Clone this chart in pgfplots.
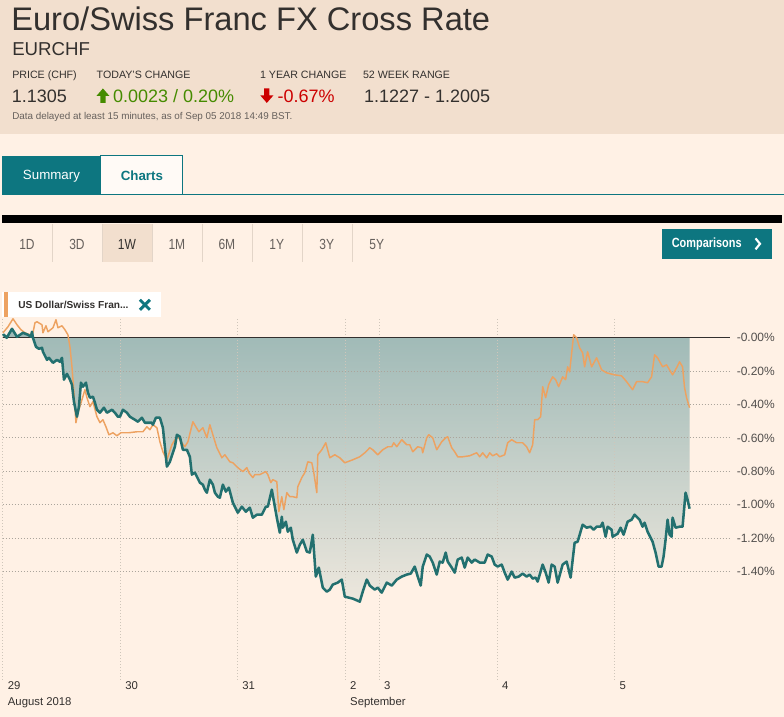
\documentclass[border=0pt]{standalone}
\usepackage{pgfplots}
\pgfplotsset{compat=1.18}
\usepackage{pgfplotstable}
\usepackage{fontspec}
\setmainfont{Liberation Sans}
\newfontfamily\narrowfont[FakeStretch=0.82]{Liberation Sans}

\definecolor{ftpink}{HTML}{FFF1E5}
\definecolor{fthead}{HTML}{F2DFCE}
\definecolor{fttext}{HTML}{33302E}
\definecolor{ftgray}{HTML}{66605C}
\definecolor{ftteal}{HTML}{0D7680}
\definecolor{lineteal}{HTML}{23706F}
\definecolor{lineorange}{HTML}{EDA261}
\definecolor{ftgreen}{HTML}{458B00}
\definecolor{ftred}{HTML}{CC0000}
\definecolor{gridh}{HTML}{ABA59C}
\definecolor{gridv}{HTML}{CFC6BA}
\definecolor{sepc}{HTML}{E3D5C8}
\definecolor{shadetop}{RGB}{158,185,182}
\definecolor{shadebot}{RGB}{237,231,221}
\pagecolor{ftpink}

% EUR/CHF, % change over the week (x = horizontal position)
\pgfplotstableread{
x y
3 0.012
4 0.018
6.7 0
12 0.054
17 0.006
23 0.030
28 0.018
31 0.006
32 0.036
33 0
36 -0.054
39 -0.066
42 -0.060
43 -0.084
47 -0.132
49 -0.120
53 -0.150
57 -0.132
60 -0.144
62 -0.120
64 -0.251
67 -0.216
70 -0.251
72 -0.281
74 -0.383
77 -0.473
79 -0.413
81 -0.269
83 -0.293
86 -0.269
88 -0.329
90 -0.359
93 -0.353
95 -0.389
97 -0.431
100 -0.449
104 -0.419
107 -0.449
112 -0.431
115 -0.449
118 -0.473
120 -0.473
123 -0.431
127 -0.449
130 -0.473
135 -0.491
138 -0.503
142 -0.479
145 -0.509
152 -0.509
153 -0.521
156 -0.479
160 -0.479
163 -0.539
167 -0.772
170 -0.743
175 -0.653
177 -0.581
180 -0.593
183 -0.671
187 -0.671
190 -0.713
192 -0.820
195 -0.808
200 -0.868
203 -0.880
205 -0.910
207 -0.928
210 -0.850
213 -0.880
215 -0.928
218 -0.952
220 -0.958
223 -0.880
226 -0.922
229 -0.898
233 -0.988
238 -1.048
242 -1.012
246 -1.042
250 -1.018
253 -1.078
257 -1.060
262 -1.060
266 -1.012
268 -1.012
272 -0.910
275 -1.012
277 -1.078
280 -1.168
282 -1.072
283 -1.138
286 -1.102
288 -1.162
291 -1.138
293 -1.210
297 -1.287
300 -1.240
303 -1.210
307 -1.281
310 -1.287
313 -1.180
316 -1.431
319 -1.377
323 -1.497
327 -1.521
330 -1.509
333 -1.479
338 -1.467
342 -1.449
345 -1.551
353 -1.563
360 -1.581
363 -1.521
367 -1.449
370 -1.485
375 -1.509
378 -1.497
382 -1.527
387 -1.467
392 -1.485
397 -1.449
402 -1.431
407 -1.419
411 -1.413
415 -1.371
418 -1.431
421 -1.485
423 -1.371
427 -1.299
430 -1.311
433 -1.347
437 -1.419
440 -1.341
443 -1.347
446 -1.287
448 -1.341
452 -1.377
455 -1.407
458 -1.329
462 -1.317
465 -1.377
468 -1.317
472 -1.347
475 -1.329
480 -1.347
485 -1.347
488 -1.299
492 -1.311
495 -1.359
498 -1.371
502 -1.359
505 -1.407
508 -1.449
512 -1.401
515 -1.437
519 -1.431
523 -1.413
527 -1.431
530 -1.419
533 -1.443
536 -1.437
538 -1.461
543 -1.359
546 -1.407
549 -1.467
552 -1.359
555 -1.371
558 -1.467
563 -1.359
567 -1.341
571 -1.437
575 -1.228
578 -1.222
583 -1.120
587 -1.138
591 -1.132
594 -1.150
597 -1.132
601 -1.132
603 -1.108
606 -1.192
608 -1.132
612 -1.150
613 -1.192
618 -1.174
621 -1.138
624 -1.180
628 -1.102
632 -1.090
635 -1.060
637 -1.072
640 -1.090
643 -1.132
645 -1.108
648 -1.162
653 -1.222
656 -1.287
659 -1.371
662 -1.371
664 -1.311
666 -1.210
668 -1.090
670 -1.180
672 -1.192
673 -1.078
676 -1.138
680 -1.132
683 -1.132
686 -0.928
688 -0.970
690 -1.024
}\eurchf

% USD/CHF comparison, % change
\pgfplotstableread{
x y
3 0.030
8 0.066
13 0.114
17 0.078
21 0.048
25 0.030
30 0.018
33 0.030
35 0.090
37 0.096
42 0.078
43 0.030
46 0.072
48 0.036
53 0.060
56 0.108
58 0.060
62 0.072
65 0.048
68 0.018
70 -0.054
72 -0.174
74 -0.329
76 -0.509
78 -0.449
82 -0.371
85 -0.311
87 -0.359
90 -0.413
93 -0.383
97 -0.473
100 -0.509
103 -0.491
106 -0.533
109 -0.581
113 -0.569
117 -0.587
121 -0.569
125 -0.569
129 -0.569
137 -0.563
143 -0.563
147 -0.533
150 -0.551
153 -0.521
157 -0.539
160 -0.623
163 -0.683
167 -0.731
172 -0.641
175 -0.611
178 -0.593
182 -0.629
185 -0.653
188 -0.623
193 -0.503
196 -0.533
199 -0.563
203 -0.539
207 -0.599
210 -0.521
213 -0.581
217 -0.659
222 -0.719
225 -0.701
230 -0.743
233 -0.749
238 -0.778
243 -0.802
247 -0.778
249 -0.808
253 -0.838
255 -0.820
260 -0.820
266 -0.802
268 -0.820
271 -0.868
273 -0.850
277 -0.862
279 -1.042
282 -0.952
284 -1.030
287 -0.928
290 -0.952
293 -0.952
297 -0.958
298 -0.892
302 -0.838
305 -0.808
308 -0.743
312 -0.749
314 -0.808
317 -0.928
318 -0.701
322 -0.671
326 -0.629
330 -0.719
335 -0.701
340 -0.719
345 -0.749
353 -0.731
360 -0.713
365 -0.689
370 -0.659
373 -0.671
378 -0.701
383 -0.671
388 -0.653
392 -0.653
394 -0.629
397 -0.653
402 -0.611
407 -0.641
410 -0.641
413 -0.683
418 -0.653
422 -0.659
423 -0.689
427 -0.599
429 -0.581
433 -0.599
437 -0.671
442 -0.623
446 -0.599
448 -0.593
452 -0.659
455 -0.683
458 -0.713
463 -0.713
470 -0.707
477 -0.689
480 -0.713
483 -0.689
487 -0.719
490 -0.689
493 -0.707
497 -0.695
500 -0.713
505 -0.701
508 -0.629
512 -0.611
517 -0.629
523 -0.629
527 -0.653
530 -0.689
533 -0.641
535 -0.491
538 -0.491
541 -0.473
543 -0.293
546 -0.359
549 -0.281
553 -0.234
556 -0.251
559 -0.293
563 -0.234
566 -0.251
568 -0.174
570 -0.204
574 0.018
577 0
580 -0.060
583 -0.090
585 -0.174
588 -0.084
592 -0.174
597 -0.120
602 -0.192
607 -0.210
615 -0.222
622 -0.228
627 -0.263
633 -0.311
637 -0.263
643 -0.263
648 -0.269
652 -0.234
655 -0.102
658 -0.120
663 -0.174
667 -0.162
670 -0.192
673 -0.222
677 -0.180
680 -0.144
683 -0.174
685 -0.299
687 -0.359
690 -0.419
}\usdchf

\begin{document}
\begin{tikzpicture}
\begin{scope}[x=0.75pt,y=-0.75pt]
% page extent (background comes from \pagecolor)
\path (0,0) rectangle (784,717);
% header
\fill[fthead] (0,0) rectangle (784,134);
\node[anchor=base west, inner sep=0pt, text=fttext, font=\fontsize{24.5}{28}\selectfont] at (11,30.5) {Euro/Swiss Franc FX Cross Rate};
\node[anchor=base west, inner sep=0pt, text=fttext, font=\fontsize{14}{16}\selectfont] at (12,56) {EURCHF};
\begin{scope}[every node/.style={anchor=base west, inner sep=0pt, text=fttext, font=\fontsize{8}{10}\selectfont}]
\node at (12,79) {PRICE (CHF)};
\node at (96.5,79) {TODAY'S CHANGE};
\node at (260,79) {1 YEAR CHANGE};
\node at (363,79) {52 WEEK RANGE};
\end{scope}
\begin{scope}[every node/.style={anchor=base west, inner sep=0pt, font=\fontsize{13.5}{16}\selectfont}]
\node[text=fttext] at (11.5,103) {1.1305};
\node[text=ftgreen] at (113,103) {0.0023 / 0.20\%};
\node[text=ftred] at (277.5,103) {-0.67\%};
\node[text=fttext] at (364,103) {1.1227 - 1.2005};
\end{scope}
\fill[ftgreen] (103,88.5) -- (109.5,96) -- (105.6,96) -- (105.6,103) -- (100.4,103) -- (100.4,96) -- (96.5,96) -- cycle;
\fill[ftred] (267,103) -- (273.5,95.5) -- (269.6,95.5) -- (269.6,88.5) -- (264.4,88.5) -- (264.4,95.5) -- (260.5,95.5) -- cycle;
\node[anchor=base west, inner sep=0pt, text=ftgray, font=\fontsize{7.4}{9}\selectfont] at (12,119.5) {Data delayed at least 15 minutes, as of Sep 05 2018 14:49 BST.};

% tabs
\fill[ftteal] (2,156) rectangle (101,195);
\node[text=white, font=\fontsize{10}{12}\selectfont] at (51.5,176) {Summary};
\filldraw[fill=ftpink!35!white, draw=ftteal, line width=0.75pt] (101,156) rectangle (183,195);
\node[text=ftteal, font=\bfseries\fontsize{10}{12}\selectfont] at (142,176) {Charts};
\draw[ftteal, line width=0.75pt] (183,195) -- (784,195);

% black rule
\fill[black] (2,215.5) rectangle (782,223.5);

% range buttons
\fill[fthead] (102.5,224) rectangle (152.5,262);
\foreach \sx in {52.5,102.5,152.5,202.5,252.5,302.5,352.5} {
  \draw[sepc, line width=0.75pt] (\sx,224) -- (\sx,262);
}
\begin{scope}[every node/.style={text=ftgray, font=\narrowfont\fontsize{11}{13}\selectfont}]
\node at (27,245) {1D};
\node at (77,245) {3D};
\node[text=fttext] at (127,245) {1W};
\node at (177,245) {1M};
\node at (227,245) {6M};
\node at (277,245) {1Y};
\node at (327,245) {3Y};
\node at (377,245) {5Y};
\end{scope}
\fill[ftteal] (662,229) rectangle (772,259);
\node[anchor=west, inner sep=0pt, text=white, font=\narrowfont\bfseries\fontsize{10}{12}\selectfont] at (672,244) {Comparisons};
\draw[white, line width=1.6pt] (756,238.5) -- (760.5,244) -- (756,249.5);

% comparison chip
\fill[white] (2,292) rectangle (161,317);
\fill[lineorange] (4.5,292) rectangle (8.5,317);
\node[anchor=west, inner sep=0pt, text=fttext, font=\bfseries\fontsize{7.6}{9}\selectfont] at (18,305) {US Dollar/Swiss Fran...};
\draw[ftteal, line width=2.2pt] (140,300) -- (150,310) (140,310) -- (150,300);
\end{scope}

% chart
\begin{axis}[
  at={(2.25pt,-510pt)}, anchor=south west,
  scale only axis, width=545.25pt, height=271.5pt,
  xmin=3, xmax=730, ymin=-2.048, ymax=0.1198,
  set layers,
  axis line style={draw=none},
  major tick length=0pt,
  xtick={3,120.5,237.5,345.5,379.5,497.5,615},
  xticklabels={{29\\August 2018},30,31,{2\\September},3,4,5},
  xticklabel style={anchor=north west, align=left, inner sep=0pt, xshift=3.5pt, yshift=-1.5pt,
    font=\fontsize{8.5}{12}\selectfont, text=fttext},
  ytick={0,-0.2,-0.4,-0.6,-0.8,-1.0,-1.2,-1.4},
  yticklabels={-0.00\%,-0.20\%,-0.40\%,-0.60\%,-0.80\%,-1.00\%,-1.20\%,-1.40\%},
  yticklabel pos=right,
  yticklabel style={anchor=west, inner sep=0pt, xshift=5.25pt, font=\fontsize{9}{11}\selectfont, text=fttext!85!white},
  xmajorgrids, ymajorgrids,
  x grid style={gridv, line width=0.75pt, dash pattern=on 0.75pt off 1.5pt},
  y grid style={gridh, line width=0.75pt, dash pattern=on 0.75pt off 1.5pt},
  clip=false,
]
\addplot[on layer=axis background, draw=none, top color=shadetop, bottom color=shadebot]
  table[x=x, y=y]{\eurchf} \closedcycle;
\draw[fttext, line width=1pt] (axis cs:3,0) -- (axis cs:730,0);
\addplot[lineorange, line width=1.1pt, line join=round] table[x=x, y=y]{\usdchf};
\addplot[lineteal, line width=1.9pt, line join=round] table[x=x, y=y]{\eurchf};
\end{axis}
\end{tikzpicture}
\end{document}
